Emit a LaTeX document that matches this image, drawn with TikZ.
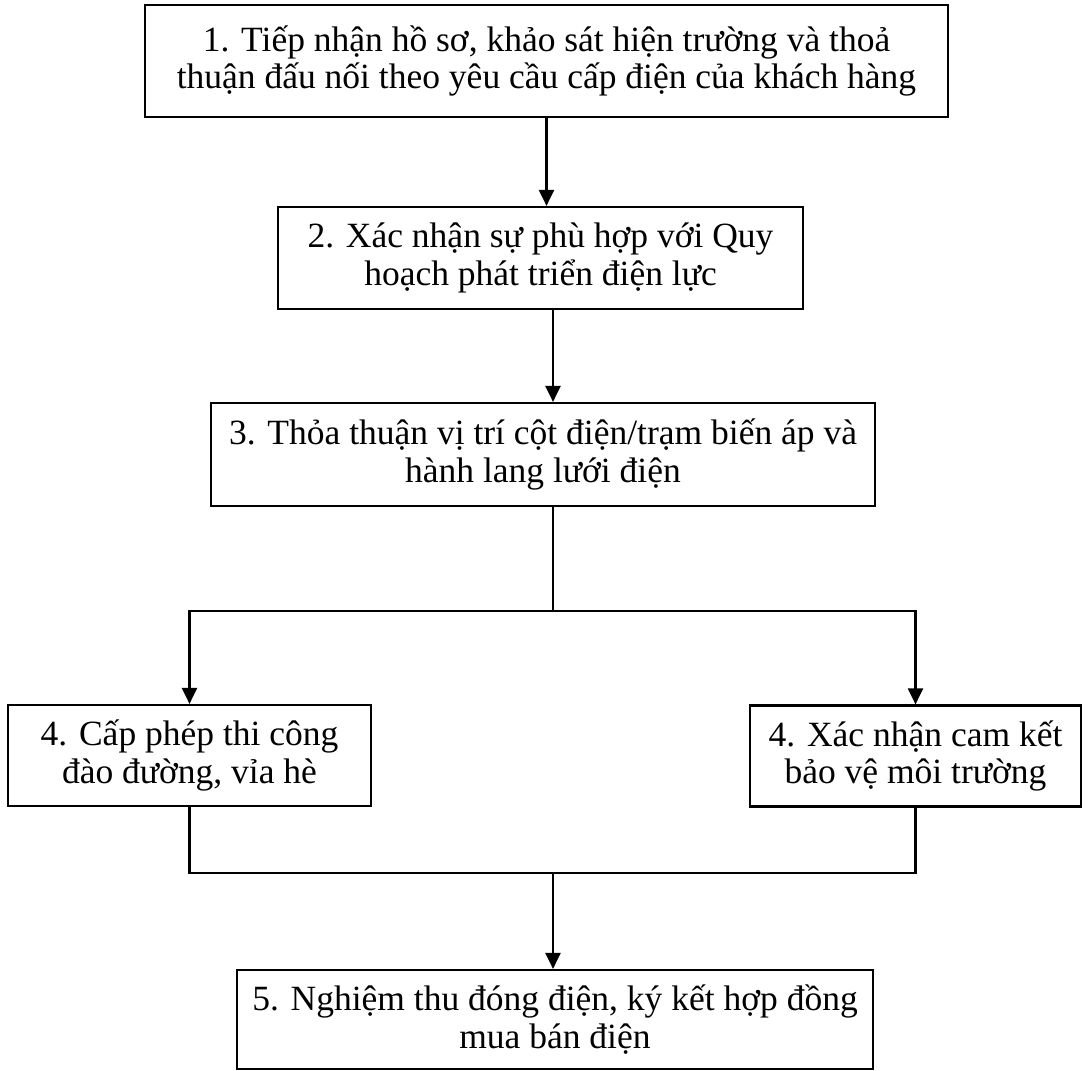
\documentclass[tikz,border=0pt]{standalone}
\usepackage{fontspec}
\setmainfont{Liberation Serif}
\usetikzlibrary{arrows.meta,calc}
\tikzset{
  stepbox/.style={draw, line width=2.2pt, align=center, inner sep=0pt,
    font=\fontsize{35.5}{37.5}\selectfont},
  flow/.style={-{Triangle[length=16pt,width=15pt]}, line width=2.2pt},
  link/.style={line width=2.2pt},
}

\begin{document}
\begin{tikzpicture}[x=1pt, y=-1pt]
\useasboundingbox (0,0) rectangle (1090,1071);

% Main chain.
\node[stepbox, minimum width=803pt, minimum height=112pt] (tiepnhan) at (546.5,61)
  {1. Tiếp nhận hồ sơ, khảo sát hiện trường và thoả\\thuận đấu nối theo yêu cầu cấp điện của khách hàng};
\node[stepbox, minimum width=525pt, minimum height=102pt] (xacnhan) at (540.5,258)
  {2. Xác nhận sự phù hợp với Quy\\hoạch phát triển điện lực};
\node[stepbox, minimum width=664pt, minimum height=103pt] (thoathuan) at (543,454.5)
  {3. Thỏa thuận vị trí cột điện/trạm biến áp và\\hành lang lưới điện};

% Two permits in parallel.
\node[stepbox, minimum width=363pt, minimum height=101pt] (capphep) at (189.5,755.5)
  {4. Cấp phép thi công\\đào đường, vỉa hè};
\node[stepbox, minimum width=331pt, minimum height=101pt] (moitruong) at (915.5,756)
  {4. Xác nhận cam kết\\bảo vệ môi trường};

\node[stepbox, minimum width=636pt, minimum height=99pt] (nghiemthu) at (555,1019.5)
  {5. Nghiệm thu đóng điện, ký kết hợp đồng\\mua bán điện};

\coordinate (tach) at (553,611);
\coordinate (gop) at (553,873);

\draw[flow] (tiepnhan.south) -- (tiepnhan.south |- xacnhan.north);
\draw[flow] (xacnhan.south -| tach) -- (thoathuan.north -| tach);
\draw[link] (thoathuan.south -| tach) -- (tach);
\draw[flow] (tach) -| (capphep.north);
\draw[flow] (tach) -| (moitruong.north);
\draw[link] (capphep.south) |- (gop) -| (moitruong.south);
\draw[flow] (gop) -- (nghiemthu.north -| gop);

\end{tikzpicture}
\end{document}
